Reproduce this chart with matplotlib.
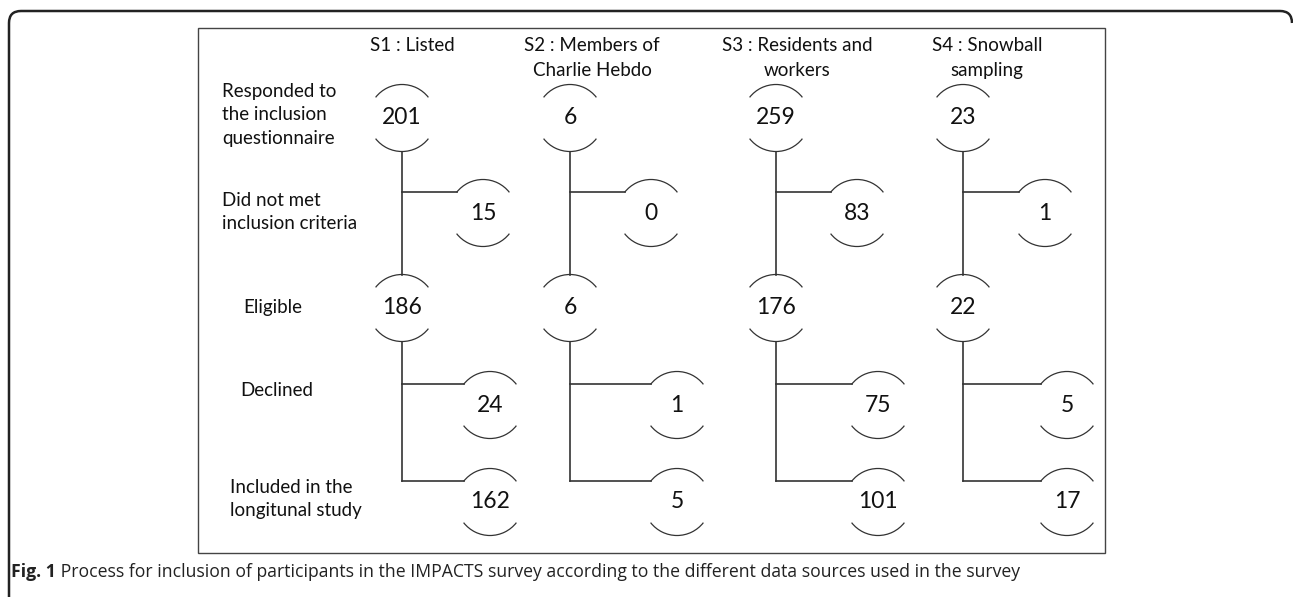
import matplotlib.pyplot as plt
from matplotlib.patches import Arc, Rectangle, PathPatch
from matplotlib.path import Path

# sources (columns) and counts at each step
sources = ["S1 : Listed", "S2 : Members of\nCharlie Hebdo",
           "S3 : Residents and\nworkers", "S4 : Snowball\nsampling"]
responded = [201, 6, 259, 23]
not_met = [15, 0, 83, 1]
eligible = [186, 6, 176, 22]
declined = [24, 1, 75, 5]
included = [162, 5, 101, 17]

step_labels = ["Responded to\nthe inclusion\nquestionnaire",
               "Did not met\ninclusion criteria",
               "Eligible", "Declined",
               "Included in the\nlongitunal study"]

caption_bold = "Fig. 1"
caption_text = (" Process for inclusion of participants in the IMPACTS survey according "
                "to the different data sources used in the survey")

W, H = 1293, 597
fig = plt.figure(figsize=(W / 100, H / 100), dpi=100)
ax = fig.add_axes([0, 0, 1, 1])
ax.set_xlim(0, W)
ax.set_ylim(H, 0)
ax.axis('off')

FONT = 'Lato'
line_c = '#333333'
txt_c = '#111111'
R = 33.5

# layout (pixels)
col_x = [402, 570, 776, 963]
head_x = [412, 592, 797, 987]
off_up = [81, 81, 81, 82]
off_low = [88, 107, 102, 104]
y_main1, y_main2 = 118, 308
y_side1, y_side2, y_side3 = 213, 405, 502

dx = R * 0.788  # horizontal reach of arc ends
dy = R * 0.616


def bubble(x, y, n):
    ax.add_patch(Arc((x, y), 2 * R, 2 * R, theta1=38, theta2=142, color=line_c, lw=0.9))
    ax.add_patch(Arc((x, y), 2 * R, 2 * R, theta1=218, theta2=322, color=line_c, lw=0.9))
    ax.text(x, y, str(n), ha='center', va='center', fontsize=16.5, family=FONT, color=txt_c)


for i in range(4):
    x = col_x[i]
    ax.text(head_x[i], 37, sources[i], ha='center', va='top',
            fontsize=13.5, family=FONT, linespacing=1.55, color=txt_c)

    bubble(x, y_main1, responded[i])
    bubble(x + off_up[i], y_side1, not_met[i])
    bubble(x, y_main2, eligible[i])
    bubble(x + off_low[i], y_side2, declined[i])
    bubble(x + off_low[i], y_side3, included[i])

    # connecting lines
    ax.plot([x, x], [y_main1 + R, y_main2 - R], color=line_c, lw=1.2)
    ax.plot([x, x + off_up[i] - dx], [y_side1 - dy, y_side1 - dy], color=line_c, lw=1.2)
    ax.plot([x, x], [y_main2 + R, y_side3 - dy], color=line_c, lw=1.2)
    ax.plot([x, x + off_low[i] - dx], [y_side2 - dy, y_side2 - dy], color=line_c, lw=1.2)
    ax.plot([x, x + off_low[i] - dx], [y_side3 - dy, y_side3 - dy], color=line_c, lw=1.2)

# step labels
label_pos = [(222, 115), (222, 212), (243, 307), (240, 390), (230, 499)]
for lab, (lx, ly) in zip(step_labels, label_pos):
    ax.text(lx, ly, lab, ha='left', va='center', fontsize=13.5, family=FONT,
            linespacing=1.45, color=txt_c)

# inner box
ax.add_patch(Rectangle((198, 28), 1105 - 198, 553 - 28, fill=False, ec='#444444', lw=1))

# outer rounded frame
rr = 12
verts = [(9, H + 2), (9, 11 + rr), (9, 11), (9 + rr, 11), (W - 1 - rr, 11),
         (W - 1, 11), (W - 1, 11 + rr)]
codes = [Path.MOVETO, Path.LINETO, Path.CURVE3, Path.CURVE3, Path.LINETO,
         Path.CURVE3, Path.CURVE3]
ax.add_patch(PathPatch(Path(verts, codes), fill=False, ec='#222222', lw=1.8))

# caption
t = ax.text(11, 572, caption_bold, ha='left', va='center', fontsize=12.7,
            family='Open Sans', fontweight='bold', color='#222222')
fig.canvas.draw()
bb = t.get_window_extent()
ax.text(11 + bb.width, 572, caption_text, ha='left', va='center', fontsize=12.7,
        family='Open Sans', color='#222222')

fig.savefig('out.png', dpi=100)
